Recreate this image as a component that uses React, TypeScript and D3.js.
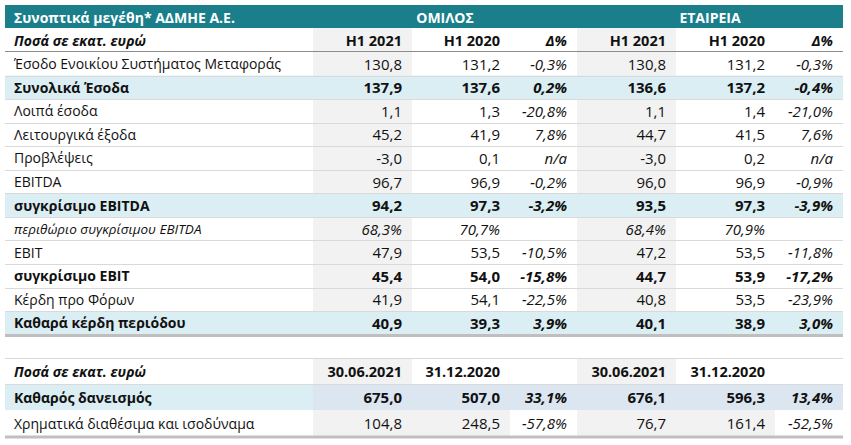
import React from "react";
import * as d3 from "d3";

// ---------- DATA ----------
const title = "Συνοπτικά μεγέθη* ΑΔΜΗΕ Α.Ε.";
const groupTitles = ["ΟΜΙΛΟΣ", "ΕΤΑΙΡΕΙΑ"];
const unitLabel = "Ποσά σε εκατ. ευρώ";
const periodHeaders1 = ["H1 2021", "H1 2020", "Δ%"];
const periodHeaders2 = ["30.06.2021", "31.12.2020", ""];

const labels1 = [
  "Έσοδο Ενοικίου Συστήματος Μεταφοράς",
  "Συνολικά Έσοδα",
  "Λοιπά έσοδα",
  "Λειτουργικά έξοδα",
  "Προβλέψεις",
  "EBITDA",
  "συγκρίσιμο EBITDA",
  "περιθώριο συγκρίσιμου EBITDA",
  "EBIT",
  "συγκρίσιμο EBIT",
  "Κέρδη προ Φόρων",
  "Καθαρά κέρδη περιόδου",
];
// row styles: "n" normal, "h" highlighted+bold, "b" bold, "i" italic (percent)
const styles1 = ["n", "h", "n", "n", "n", "n", "h", "i", "n", "b", "n", "h"];

const groupH1_2021 = [130.8, 137.9, 1.1, 45.2, -3.0, 96.7, 94.2, 68.3, 47.9, 45.4, 41.9, 40.9];
const groupH1_2020 = [131.2, 137.6, 1.3, 41.9, 0.1, 96.9, 97.3, 70.7, 53.5, 54.0, 54.1, 39.3];
const groupDelta: (number | string)[] = [-0.3, 0.2, -20.8, 7.8, "n/a", -0.2, -3.2, "", -10.5, -15.8, -22.5, 3.9];
const companyH1_2021 = [130.8, 136.6, 1.1, 44.7, -3.0, 96.0, 93.5, 68.4, 47.2, 44.7, 40.8, 40.1];
const companyH1_2020 = [131.2, 137.2, 1.4, 41.5, 0.2, 96.9, 97.3, 70.9, 53.5, 53.9, 53.5, 38.9];
const companyDelta: (number | string)[] = [-0.3, -0.4, -21.0, 7.6, "n/a", -0.9, -3.9, "", -11.8, -17.2, -23.9, 3.0];

const labels2 = ["Καθαρός δανεισμός", "Χρηματικά διαθέσιμα και ισοδύναμα"];
const styles2 = ["h", "n"];
const groupDate1 = [675.0, 104.8];
const groupDate2 = [507.0, 248.5];
const groupDelta2 = [33.1, -57.8];
const companyDate1 = [676.1, 76.7];
const companyDate2 = [596.3, 161.4];
const companyDelta2 = [13.4, -52.5];

// ---------- FORMAT ----------
const locale = d3.formatLocale({ decimal: ",", thousands: ".", grouping: [3], currency: ["€", ""] });
const fmt1 = locale.format(".1f");
const fmtNum = (v: number) => fmt1(v).replace("−", "-");
const fmtPct = (v: number | string) => (typeof v === "string" ? v : fmtNum(v) + "%");

// ---------- LAYOUT ----------
const W = 851;
const H = 445;
const colEdges = [5, 313, 412, 510, 577, 676, 775, 843];
const FONT = "'Open Sans', 'Liberation Sans', sans-serif";
const FS_LABEL = 14;
const FS_NUM = 15;
const TEAL = "#1a7f8b";
const HL = "#daeef3";
const HL2 = "#dce6f1";
const GREY = "#f2f2f2";
const LINE = "#d9d9d9";
const THICK = "#bfbfbf";
const INK = "#111";

const y1 = d3.scaleLinear().domain([0, labels1.length]).range([52, 334.6]);
const y2 = d3.scaleLinear().domain([0, 3]).range([358, 436]);
const xRight = (c: number) => colEdges[c + 2] - 10;

export default function App() {
  const rh1 = y1(1) - y1(0);
  const rh2 = y2(1) - y2(0);

  const txt = (
    x: number,
    y: number,
    s: string,
    opts: { anchor?: string; bold?: boolean; italic?: boolean; fill?: string; key?: string; size?: number } = {}
  ) => (
    <text
      key={opts.key}
      x={x}
      y={y}
      textAnchor={opts.anchor || "end"}
      dominantBaseline="central"
      fontWeight={opts.bold ? 700 : 400}
      fontStyle={opts.italic ? "italic" : "normal"}
      fontSize={opts.size || FS_NUM}
      fill={opts.fill || INK}
    >
      {s}
    </text>
  );

  const cols1 = [groupH1_2021, groupH1_2020, groupDelta, companyH1_2021, companyH1_2020, companyDelta];
  const cols2 = [groupDate1, groupDate2, groupDelta2, companyDate1, companyDate2, companyDelta2];

  return (
    <svg width={W} height={H} style={{ display: "block", position: "absolute", left: 0, top: 0 }} fontFamily={FONT}>
      <rect x={0} y={0} width={W} height={H} fill="#fff" />
      {/* header band */}
      <rect x={colEdges[0]} y={5} width={colEdges[7] - colEdges[0]} height={23} fill={TEAL} />
      {txt(14, 17, title, { anchor: "start", bold: true, fill: "#fff", size: FS_LABEL })}
      {txt((colEdges[1] + colEdges[4]) / 2, 17, groupTitles[0], { anchor: "middle", bold: true, fill: "#fff", size: FS_LABEL })}
      {txt((colEdges[4] + colEdges[7]) / 2, 17, groupTitles[1], { anchor: "middle", bold: true, fill: "#fff", size: FS_LABEL })}

      {/* grey columns table 1 */}
      {[1, 4].map((c) => (
        <rect key={"g" + c} x={colEdges[c]} y={28} width={colEdges[c + 1] - colEdges[c]} height={y1(labels1.length) - 28} fill={GREY} />
      ))}
      {/* highlighted rows */}
      {styles1.map((s, i) =>
        s === "h" ? (
          <rect key={"h" + i} x={colEdges[0]} y={y1(i)} width={colEdges[7] - colEdges[0]} height={rh1} fill={HL} />
        ) : null
      )}
      {/* sub header */}
      {txt(14, 40, unitLabel, { anchor: "start", bold: true, italic: true, size: FS_LABEL })}
      {[0, 1].map((g) =>
        periodHeaders1.map((h, k) =>
          txt(xRight(g * 3 + k), 40, h, { bold: true, italic: k === 2, key: `ph${g}${k}`, size: 14.5 })
        )
      )}
      {/* row lines */}
      <line x1={colEdges[0]} x2={colEdges[7]} y1={51.5} y2={51.5} stroke="#8c8c8c" strokeWidth={1} />
      {d3.range(1, labels1.length).map((i) => (
        <line key={"l" + i} x1={colEdges[0]} x2={colEdges[7]} y1={Math.round(y1(i)) + 0.5} y2={Math.round(y1(i)) + 0.5} stroke={LINE} strokeWidth={1} />
      ))}
      <line x1={colEdges[0]} x2={colEdges[7]} y1={y1(labels1.length) + 1} y2={y1(labels1.length) + 1} stroke={THICK} strokeWidth={3} />

      {/* table 1 body */}
      {labels1.map((lab, i) => {
        const st = styles1[i];
        const bold = st === "h" || st === "b";
        const italic = st === "i";
        const cy = y1(i) + rh1 / 2;
        return (
          <g key={"r" + i}>
            {txt(14, cy, lab, { anchor: "start", bold, italic, size: italic ? 13.5 : FS_LABEL })}
            {cols1.map((col, c) => {
              const v = col[i];
              const isDelta = c % 3 === 2;
              const s = isDelta ? fmtPct(v as number | string) : italic ? fmtPct(v as number) : fmtNum(v as number);
              return txt(xRight(c), cy, s, { bold, italic: italic || isDelta, key: "c" + c });
            })}
          </g>
        );
      })}

      {/* table 2 */}
      {[1, 4].map((c) => (
        <rect key={"g2" + c} x={colEdges[c]} y={y2(0)} width={colEdges[c + 1] - colEdges[c]} height={rh2} fill={GREY} />
      ))}
      <rect x={colEdges[0]} y={y2(1)} width={colEdges[1] - colEdges[0]} height={rh2} fill={HL} />
      <rect x={colEdges[1]} y={y2(1)} width={colEdges[7] - colEdges[1]} height={rh2} fill={HL2} />
      {[1, 4].map((c) => (
        <rect key={"g3" + c} x={colEdges[c]} y={y2(2)} width={colEdges[c + 2] - colEdges[c]} height={rh2} fill={GREY} />
      ))}
      <line x1={colEdges[0]} x2={colEdges[7]} y1={y2(0) + 0.5} y2={y2(0) + 0.5} stroke={LINE} strokeWidth={1} />
      <line x1={colEdges[0]} x2={colEdges[7]} y1={Math.round(y2(1)) + 0.5} y2={Math.round(y2(1)) + 0.5} stroke={LINE} strokeWidth={1} />
      <line x1={colEdges[0]} x2={colEdges[7]} y1={y2(3) + 1} y2={y2(3) + 1} stroke={THICK} strokeWidth={3} />
      {txt(14, y2(0) + rh2 / 2, unitLabel, { anchor: "start", bold: true, italic: true, size: FS_LABEL })}
      {[0, 1].map((g) =>
        periodHeaders2.map((h, k) => txt(xRight(g * 3 + k), y2(0) + rh2 / 2, h, { bold: true, key: `p2${g}${k}`, size: 14.5 }))
      )}
      {labels2.map((lab, i) => {
        const bold = styles2[i] === "h";
        const cy = y2(i + 1) + rh2 / 2;
        return (
          <g key={"t2" + i}>
            {txt(14, cy, lab, { anchor: "start", bold, size: FS_LABEL })}
            {cols2.map((col, c) => {
              const isDelta = c % 3 === 2;
              const s = isDelta ? fmtPct(col[i]) : fmtNum(col[i]);
              return txt(xRight(c), cy, s, { bold, italic: isDelta, key: "c" + c });
            })}
          </g>
        );
      })}
    </svg>
  );
}
